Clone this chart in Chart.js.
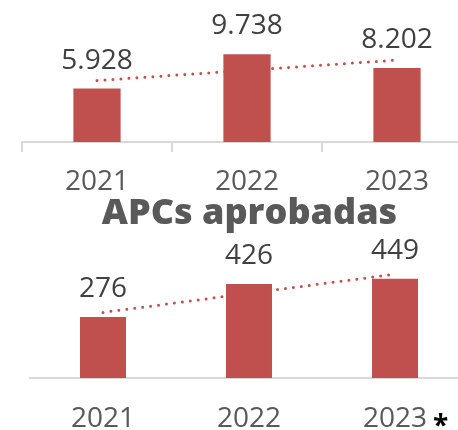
<!DOCTYPE html>
<html>
<head>
<meta charset="utf-8">
<script src="https://cdn.jsdelivr.net/npm/chart.js@4"></script>
<style>
  html, body { margin: 0; padding: 0; background: #fff; }
  body { width: 458px; height: 430px; overflow: hidden; position: relative; }
  .box { position: absolute; left: 0; width: 480px; }
  #topBox { top: 0; height: 202px; }
  #bottomBox { top: 230px; height: 200px; }
  #title {
    position: absolute; left: 0; width: 499px; top: 188px;
    text-align: center; font-family: "Open Sans", sans-serif; font-weight: 800;
    font-size: 36px; line-height: 45px; color: #595959;
  }
</style>
</head>
<body>
<div class="box" id="topBox"><canvas id="topChart"></canvas></div>
<div id="title">APCs aprobadas</div>
<div class="box" id="bottomBox"><canvas id="bottomChart"></canvas></div>

<script>
// years shown on both charts
const years = ['2021', '2022', '2023'];

// top chart values + trend line ends
const topValues = [5928, 9738, 8202];
const topTrend = [6820, null, 9090];

// bottom chart: APCs aprobadas
const apcValues = [276, 426, 449];
const apcTrend = [297, null, 470];

const RED = '#C0504D';
const FONT = '"Open Sans", sans-serif';

function fmt(n) {
    // 5928 -> 5.928
    return String(n).replace(/\B(?=(\d{3})+(?!\d))/g, '.');
}

// draws the value labels above bars (and the asterisk after 2023 if asked)
const valueLabels = {
    id: 'valueLabels',
    afterDatasetsDraw(chart, args, opts) {
        const ctx = chart.ctx;
        const meta = chart.getDatasetMeta(0);
        ctx.save();
        ctx.font = '28px ' + FONT;
        ctx.fillStyle = '#404040';
        ctx.textAlign = 'center';
        ctx.textBaseline = 'alphabetic';
        meta.data.forEach((bar, i) => {
            const v = chart.data.datasets[0].data[i];
            ctx.fillText(fmt(v), bar.x, bar.y - 20);
        });
        if (opts.star) {
            const xs = chart.scales.x;
            ctx.font = '28px ' + FONT;
            const w = ctx.measureText(years[2]).width;
            ctx.font = 'bold 28px ' + FONT;
            ctx.fillStyle = '#000';
            ctx.textAlign = 'left';
            ctx.fillText('*', xs.getPixelForTick(2) + w / 2 + 6, xs.top + 57);
        }
        ctx.restore();
    }
};

function makeChart(id, values, trend, yMax, padLeft, padRight, axisH, drawTicks, tickPad, star) {
    const ctx = document.getElementById(id).getContext('2d');
    return new Chart(ctx, {
        type: 'bar',
        data: {
            labels: years,
            datasets: [{
                data: values,
                backgroundColor: RED,
                borderWidth: 0,
                barPercentage: 0.315,
                categoryPercentage: 1
            }, {
                type: 'line',
                data: trend,
                spanGaps: true,
                borderColor: RED,
                borderWidth: 3,
                borderDash: [0, 8],
                borderCapStyle: 'round',
                pointRadius: 0,
                fill: false
            }]
        },
        options: {
            responsive: true,
            maintainAspectRatio: false,
            animation: false,
            layout: { padding: { left: padLeft, right: padRight, top: 0, bottom: 0 } },
            plugins: {
                legend: { display: false },
                tooltip: { enabled: false },
                valueLabels: { star: star }
            },
            scales: {
                y: { display: false, min: 0, max: yMax },
                x: {
                    afterFit: (s) => { s.height = axisH; },
                    grid: {
                        offset: true,
                        drawOnChartArea: false,
                        drawTicks: drawTicks,
                        tickLength: 10,
                        color: '#D9D9D9',
                        lineWidth: 2
                    },
                    border: { display: true, color: '#D9D9D9', width: 2 },
                    ticks: {
                        padding: tickPad,
                        color: '#595959',
                        font: { family: FONT, size: 28 }
                    }
                }
            }
        },
        plugins: [valueLabels]
    });
}

makeChart('topChart', topValues, topTrend, 15750, 22, 8, 60, true, 13, false);
makeChart('bottomChart', apcValues, apcTrend, 670, 30, 12, 52, false, 24, true);
</script>
</body>
</html>
